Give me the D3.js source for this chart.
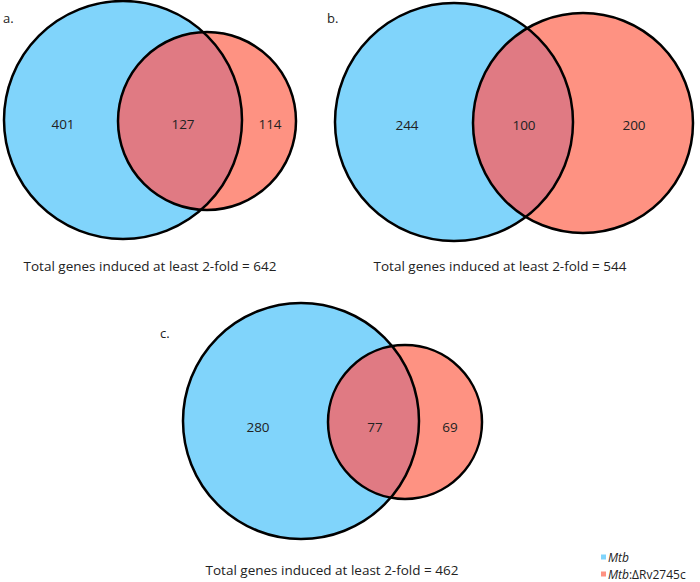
<!DOCTYPE html>
<html><head><meta charset="utf-8">
<script src="https://cdn.jsdelivr.net/npm/d3@7"></script>
<style>body{margin:0;background:#fff}svg{display:block}text{font-family:"Open Sans",sans-serif;fill:#222}</style>
</head><body>
<script>
// Data
const panels = ["a.", "b.", "c."];
const onlyMtb = [401, 244, 280];
const shared = [127, 100, 77];
const onlyMutant = [114, 200, 69];
const totals = [642, 544, 462];
const seriesNames = ["Mtb", "Mtb:\u0394Rv2745c"];
const colors = ["#80d4fb", "#fe9282"];
const overlapColor = "#e07a83";

// Layout (pixel geometry, not data)
const layout = [
  {c1:[123,120], r1:119, c2:[207,121], r2:89, lab:[3,18], cap:[150,271], nums:[63,183,270], ny:124},
  {c1:[454,122], r1:119, c2:[583,123], r2:110, lab:[327,18], cap:[500,271], nums:[407,524,634], ny:125},
  {c1:[301,421], r1:118, c2:[405,422], r2:77, lab:[160,333], cap:[332,575], nums:[258,375,450], ny:427}
];

const W = 700, H = 582;
const svg = d3.select("body").append("svg").attr("width", W).attr("height", H);
const defs = svg.append("defs");

panels.forEach((p, i) => {
  const L = layout[i];
  const g = svg.append("g");
  defs.append("clipPath").attr("id", "clip" + i)
    .append("circle").attr("cx", L.c1[0]).attr("cy", L.c1[1]).attr("r", L.r1);
  g.append("circle").attr("cx", L.c1[0]).attr("cy", L.c1[1]).attr("r", L.r1).attr("fill", colors[0]);
  g.append("circle").attr("cx", L.c2[0]).attr("cy", L.c2[1]).attr("r", L.r2).attr("fill", colors[1]);
  g.append("circle").attr("cx", L.c2[0]).attr("cy", L.c2[1]).attr("r", L.r2)
    .attr("fill", overlapColor).attr("clip-path", "url(#clip" + i + ")");
  g.append("circle").attr("cx", L.c1[0]).attr("cy", L.c1[1]).attr("r", L.r1)
    .attr("fill", "none").attr("stroke", "#000").attr("stroke-width", 2.5);
  g.append("circle").attr("cx", L.c2[0]).attr("cy", L.c2[1]).attr("r", L.r2)
    .attr("fill", "none").attr("stroke", "#000").attr("stroke-width", 2.5);
  const vals = [onlyMtb[i], shared[i], onlyMutant[i]];
  vals.forEach((v, k) => {
    g.append("text").attr("x", L.nums[k]).attr("y", L.ny).attr("text-anchor", "middle")
      .attr("dominant-baseline", "central").attr("font-size", 13.5).text(v);
  });
  g.append("text").attr("x", L.lab[0]).attr("y", L.lab[1]).attr("font-size", 13)
    .attr("dominant-baseline", "central").text(p);
  g.append("text").attr("x", L.cap[0]).attr("y", L.cap[1]).attr("text-anchor", "middle")
    .attr("font-size", 13.5).text("Total genes induced at least 2-fold = " + totals[i]);
});

// Legend
const leg = svg.append("g");
seriesNames.forEach((n, k) => {
  const y = 557 + k * 17;
  leg.append("rect").attr("x", 601).attr("y", y - 2.5).attr("width", 5).attr("height", 5).attr("fill", colors[k]);
  const t = leg.append("text").attr("x", 608).attr("y", y).attr("dominant-baseline", "central").attr("font-size", 12);
  t.append("tspan").attr("font-style", "italic").text("Mtb");
  if (n.length > 3) t.append("tspan").text(n.slice(3));
});
</script>
</body></html>
